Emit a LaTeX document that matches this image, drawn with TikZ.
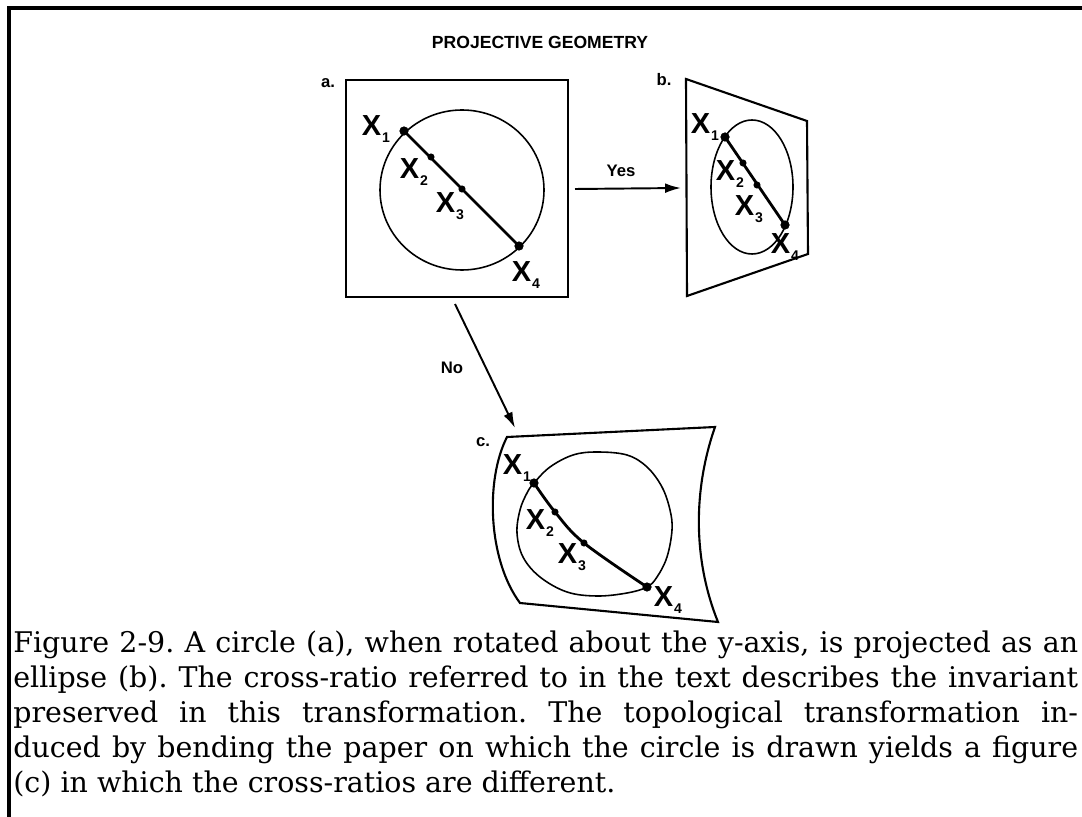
\documentclass[tikz,border=0pt]{standalone}
\usepackage{fontspec}
\setmainfont{DejaVu Serif}
\newfontfamily\labelfont{Liberation Sans}
\usetikzlibrary{arrows.meta}
\usetikzlibrary{calc}

\newcommand{\xlab}[1]{X\kern0.03em\raisebox{-0.5ex}{\fontsize{8}{8}\selectfont #1}}

\begin{document}
\begin{tikzpicture}[x=0.02cm, y=-0.02cm,
    every node/.style={font=\labelfont\bfseries},
    ptlabel/.style={font=\labelfont\bfseries\fontsize{16.5}{16.5}\selectfont, inner sep=0pt},
    tag/.style={font=\labelfont\bfseries\fontsize{9.5}{9.5}\selectfont, inner sep=0pt},
    panel/.style={line width=1.2pt},
    curve/.style={line width=0.9pt},
    chord/.style={line width=1.6pt},
    move/.style={-{Latex[length=9pt,width=5.5pt]}, line width=1.1pt}]
    \useasboundingbox (0,0) rectangle (1082,817);

    % frame
    \draw[line width=2pt] (9,817) -- (9,8) -- (1082,8);
    \node[font=\labelfont\bfseries\fontsize{10}{10}\selectfont] (title) at (540,42) {PROJECTIVE GEOMETRY};

    % ---------------- a: circle ----------------
    \node[tag] (taga) at (328,83) {a.};
    \draw[panel] (346,80) rectangle (568,297);
    \draw[curve] (462,190) ellipse [x radius=82, y radius=80];

    \coordinate (a1) at (404,131);
    \coordinate (a2) at (431,157);
    \coordinate (a3) at (462,189);
    \coordinate (a4) at (519,246);
    \draw[chord] (a1) -- (a4);
    \filldraw (a1) circle (2.4pt) (a4) circle (2.4pt);
    \filldraw (a2) circle (1.8pt) (a3) circle (1.8pt);

    \node[ptlabel] (la1) at (376,129) {\xlab{1}};
    \node[ptlabel] (la2) at (414,172) {\xlab{2}};
    \node[ptlabel] (la3) at (450,206) {\xlab{3}};
    \node[ptlabel] (la4) at (526,275) {\xlab{4}};

    % ---------------- b: ellipse ----------------
    \node[tag] (tagb) at (664,80) {b.};
    \draw[panel] (686,79) -- (807,121) -- (808,254) -- (687,296) -- cycle;
    \draw[curve] (752,187) ellipse [x radius=41, y radius=67];

    \coordinate (b1) at (725,137);
    \coordinate (b2) at (743,163);
    \coordinate (b3) at (757,185);
    \coordinate (b4) at (785,225);
    \draw[chord] (b1) -- (b4);
    \filldraw (b1) circle (2.4pt) (b4) circle (2.4pt);
    \filldraw (b2) circle (1.8pt) (b3) circle (1.8pt);

    \node[ptlabel] (lb1) at (705,127) {\xlab{1}};
    \node[ptlabel] (lb2) at (730,174) {\xlab{2}};
    \node[ptlabel] (lb3) at (749,209) {\xlab{3}};
    \node[ptlabel] (lb4) at (785,247) {\xlab{4}};

    % ---------------- c: bent paper ----------------
    \node[tag] (tagc) at (483,442) {c.};
    \draw[panel] (507,437) -- (715,427)
        .. controls (693,490) and (693,560) .. (718,622)
        -- (520,603)
        .. controls (488,560) and (485,480) .. (507,437) -- cycle;
    \draw[curve] plot[smooth cycle, tension=0.6] coordinates {
        (534,483) (550,467) (573,455) (597,452) (627,455) (647,467)
        (662,487) (670,510) (672,530) (667,557) (657,577) (647,587)
        (627,593) (597,596) (567,592) (540,577) (523,557) (517,533)
        (520,510) (527,493)};

    \coordinate (c1) at (534,483);
    \coordinate (c2) at (555,512);
    \coordinate (c3) at (584,543);
    \coordinate (c4) at (647,587);
    \draw[chord] plot[smooth, tension=0.6] coordinates {(c1) (c2) (c3) (c4)};
    \filldraw (c1) circle (2.4pt) (c4) circle (2.4pt);
    \filldraw (c2) circle (1.8pt) (c3) circle (1.8pt);

    \node[ptlabel] (lc1) at (517,468) {\xlab{1}};
    \node[ptlabel] (lc2) at (540,523) {\xlab{2}};
    \node[ptlabel] (lc3) at (572,557) {\xlab{3}};
    \node[ptlabel] (lc4) at (668,600) {\xlab{4}};

    % transformations
    \coordinate (yesfrom) at (575,189);
    \coordinate (yesto) at (681,188);
    \draw[move] (yesfrom) -- (yesto);
    \node[tag] (yes) at (621,171) {Yes};

    \coordinate (nofrom) at (455,304);
    \coordinate (noto) at (515,428);
    \draw[move] (nofrom) -- (noto);
    \node[tag] (no) at (452,368) {No};

    % caption
    \node[anchor=north west, inner sep=0pt, text width=21.3cm, align=justify,
        font=\rmfamily\frenchspacing\fontsize{16.2}{19.9}\selectfont] (caption) at (13,631)
        {Figure 2-9. A circle (a), when rotated about the y-axis, is projected as an\linebreak
        ellipse (b). The cross-ratio referred to in the text describes the invariant\linebreak
        preserved in this transformation. The topological transformation in-\linebreak
        duced by bending the paper on which the circle is drawn yields a figure\linebreak
        (c) in which the cross-ratios are different.};
\end{tikzpicture}
\end{document}
